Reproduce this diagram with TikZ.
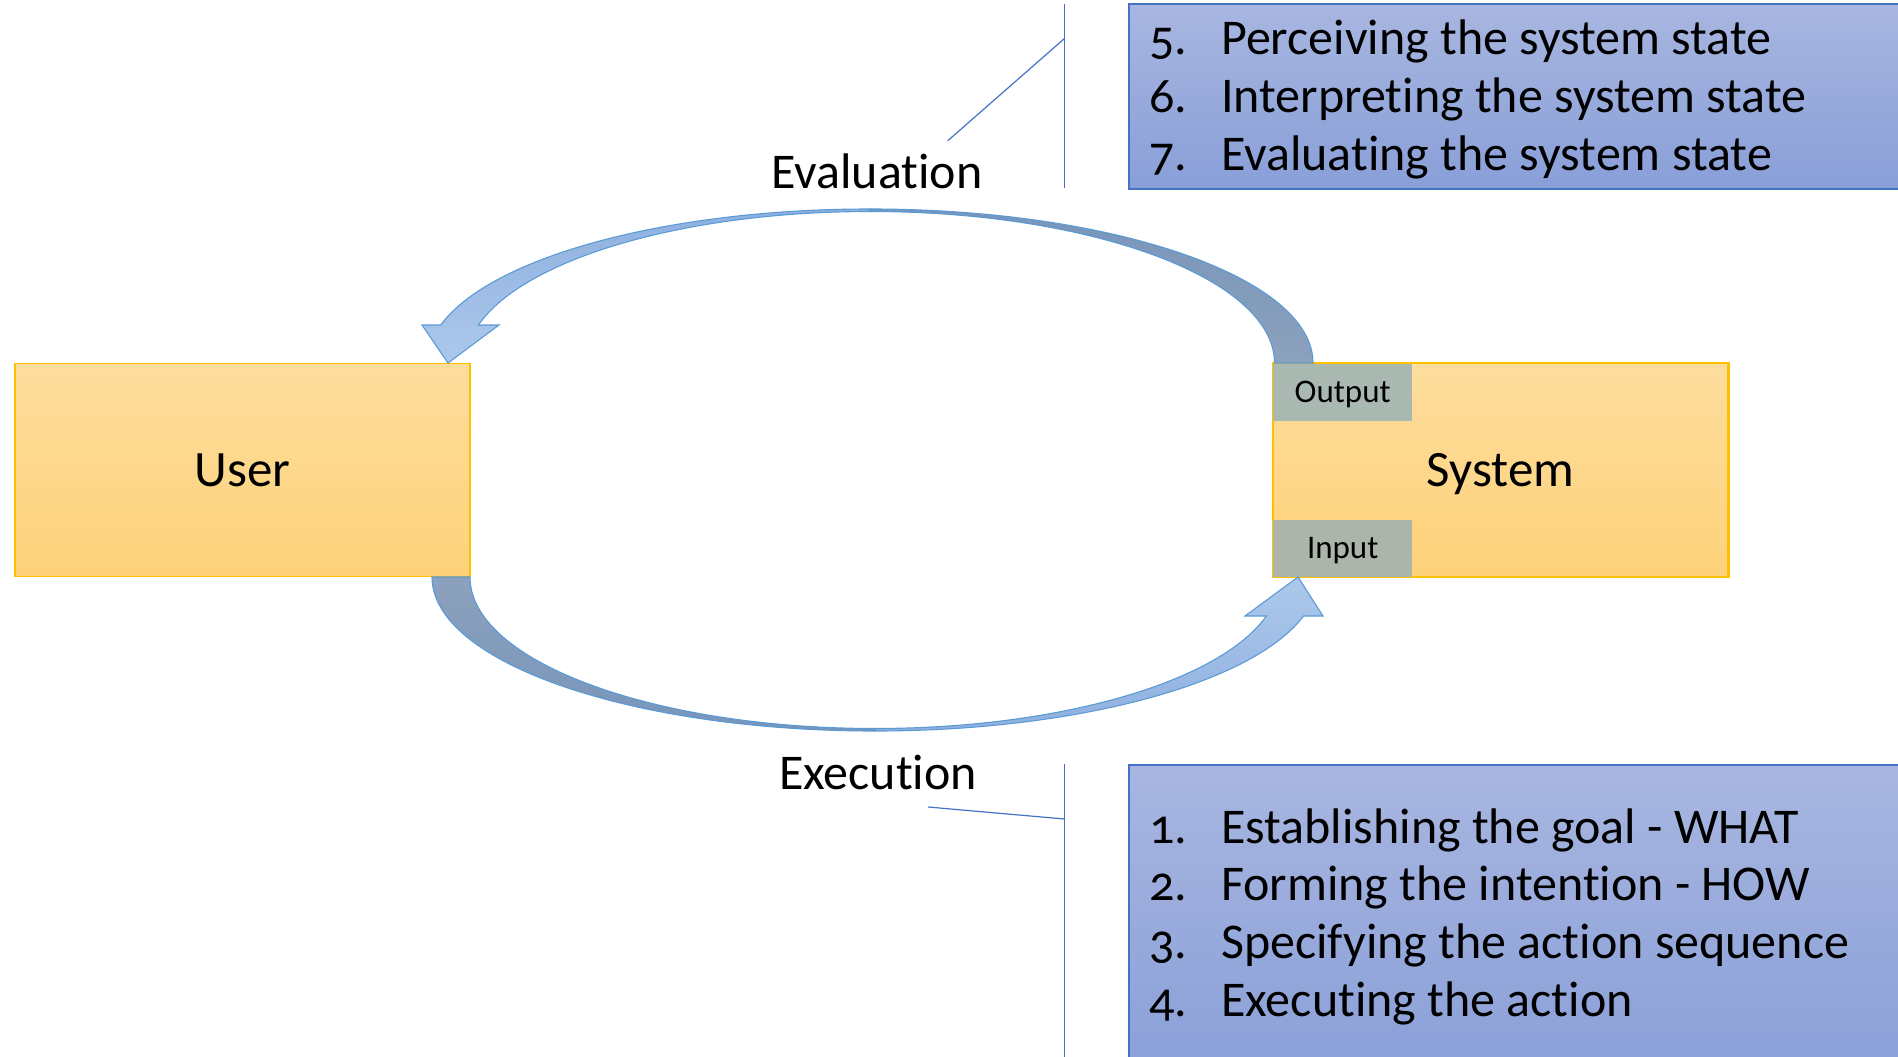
\documentclass[tikz,border=0pt]{standalone}
\usepackage{fontspec}
\setmainfont{Carlito}[Ligatures=NoCommon]
\newfontfamily\listfont{Carlito}[Numbers=OldStyle,Ligatures=NoCommon]
\definecolor{boxtop}{RGB}{253,221,157}
\definecolor{boxbot}{RGB}{253,210,122}
\definecolor{boxline}{RGB}{255,192,0}
\definecolor{porta}{RGB}{169,185,178}
\definecolor{portb}{RGB}{171,181,169}
\definecolor{calltop}{RGB}{168,182,224}
\definecolor{callbot}{RGB}{137,159,216}
\definecolor{callline}{RGB}{68,114,196}
\definecolor{arrline}{RGB}{91,155,213}
\definecolor{lightapex}{RGB}{143,176,223}
\definecolor{lighthead}{RGB}{172,200,235}
\definecolor{darkapex}{RGB}{120,149,186}
\definecolor{darkend}{RGB}{140,161,189}
\tikzset{
  mainbox/.style={draw=boxline, line width=1.5pt, top color=boxtop, bottom color=boxbot,
    minimum width=455pt, minimum height=213pt, inner sep=0pt,
    font=\fontsize{51}{60}\selectfont, text height=33pt, text depth=0pt},
  portbox/.style={minimum width=139pt, minimum height=57pt, inner sep=0pt, anchor=north west,
    font=\fontsize{33}{40}\selectfont, text height=20pt, text depth=0pt},
  calloutbox/.style={draw=callline, line width=1.5pt, top color=calltop, bottom color=callbot,
    anchor=north west, inner sep=0pt},
  leader/.style={draw=callline, line width=1.2pt},
  biglabel/.style={anchor=base, inner sep=0pt, font=\fontsize{50}{60}\selectfont},
  listnum/.style={anchor=base west, inner sep=0pt, font=\listfont\fontsize{50}{60}\selectfont},
  listtext/.style={anchor=base west, inner sep=0pt, font=\fontsize{50}{60}\selectfont},
  arrowband/.style={draw=arrline, line width=1.1pt, line join=miter},
}
\begin{document}
\begin{tikzpicture}[x=1pt,y=-1pt]
\clip (0,0) rectangle (1898,1057);
\fill[white] (0,0) rectangle (1898,1057);

% callout boxes
\node[calloutbox, minimum width=790pt, minimum height=184.5pt] (evalbox) at (1128,3.5) {};
\node[calloutbox, minimum width=790pt, minimum height=320pt] (execbox) at (1128,764) {};

% accent bars and leaders
\coordinate (evalbartop) at (1064.7,4);
\coordinate (evalbarbot) at (1064.7,188);
\coordinate (evalknee) at (1064.7,38.3);
\coordinate (evalend) at (947.8,140.7);
\draw[leader] (evalbartop) -- (evalbarbot);
\draw[leader] (evalknee) -- (evalend);
\coordinate (execbartop) at (1064.5,764);
\coordinate (execbarbot) at (1064.5,1060);
\coordinate (execknee) at (1064.5,819);
\coordinate (execend) at (928,807);
\draw[leader] (execbartop) -- (execbarbot);
\draw[leader] (execknee) -- (execend);

% list texts
\foreach \n/\t/\y in {5/Perceiving the system state/55,6/Interpreting the system state/112.7,7/Evaluating the system state/170.4}{
  \node[listnum] (num\n) at (1149,\y) {\n.};
  \node[listtext] (item\n) at (1221,\y) {\t};
}
\foreach \n/\t/\y in {1/Establishing the goal - WHAT/843,2/Forming the intention - HOW/900.7,3/Specifying the action sequence/958.4,4/Executing the action/1016}{
  \node[listnum] (num\n) at (1149,\y) {\n.};
  \node[listtext] (item\n) at (1221,\y) {\t};
}

% main boxes
\node[mainbox] (user) at (242.5,470) {User};
\node[mainbox] (system) at (1500.5,470) {};
\node[portbox, fill=porta] (output) at (1273,363.5) {Output};
\node[portbox, fill=portb] (input) at (1273,520) {Input};
\draw[boxline, line width=1.5pt] (system.north west) rectangle (system.south east);
\node[anchor=center, inner sep=0pt, font=\fontsize{51}{60}\selectfont, text height=33pt, text depth=0pt] (systemlabel) at (system.center) {System};

% labels
\node[biglabel] (evaluation) at (877,188) {Evaluation};
\node[biglabel] (execution) at (878,789.3) {Execution};

% evaluation arrow (system output -> user)
\path[arrowband, top color=darkapex, bottom color=darkend]
  (1313,363) arc[start angle=0,end angle=90,x radius=443pt,y radius=154pt]
  -- (870,211.5) arc[start angle=90,end angle=0,x radius=404.5pt,y radius=151.5pt] -- cycle;
\path[arrowband, top color=lightapex, bottom color=lighthead]
  (870,209) arc[start angle=90,end angle=165.71,x radius=443pt,y radius=154pt]
  -- (422,325) -- (448,363) -- (499,325) -- (478.4,325)
  arc[start angle=165.47,end angle=90,x radius=404.5pt,y radius=151.5pt] -- cycle;

% execution arrow (user -> system input)
\path[arrowband, top color=darkend, bottom color=darkapex]
  (432,577) arc[start angle=180,end angle=270,x radius=443pt,y radius=154pt]
  -- (875,728.5) arc[start angle=270,end angle=180,x radius=405pt,y radius=151.5pt] -- cycle;
\path[arrowband, top color=lighthead, bottom color=lightapex]
  (875,731) arc[start angle=270,end angle=345.33,x radius=443pt,y radius=154pt]
  -- (1323,616) -- (1298,577) -- (1245,616) -- (1266.4,616)
  arc[start angle=345.08,end angle=270,x radius=405pt,y radius=151.5pt] -- cycle;
\end{tikzpicture}
\end{document}
